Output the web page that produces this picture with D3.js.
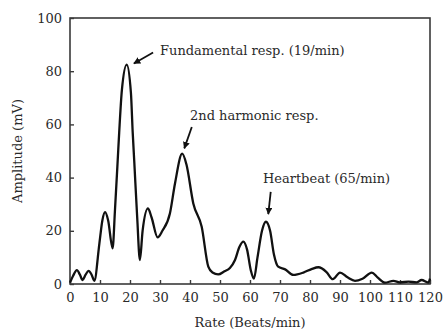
<!DOCTYPE html>
<html><head><meta charset="utf-8">
<script src="https://cdn.jsdelivr.net/npm/d3@7"></script>
<style>
html,body{margin:0;padding:0;background:#fff;}
</style></head>
<body>
<svg id="chart" width="444" height="331"></svg>
<script>
const rates = [0,1,2.3,3.3,4.2,5.2,6.2,7.2,8.1,9.8,10.8,11.7,12.7,14.2,15.0,15.9,16.4,17.3,18.9,20.3,20.9,21.4,22.4,23.3,24.2,26.0,27.2,29.2,30.8,33.3,35.0,37.4,38.8,41.1,43.9,46.1,47.5,49.4,51.5,53.3,55.0,56.5,57.8,59.0,60.3,61.3,62.5,64.0,65.3,66.7,68.0,69.4,71.7,74.4,77.8,80.5,82.8,85.5,87.6,90.0,92.5,95.0,97.5,100.6,102.5,105.0,107.8,110.0,112.8,115.5,117.2,119.4,120];
const amps  = [0.5,3,5.2,3.5,1.5,3.5,4.9,3.5,1.2,15.3,24,27,24,13.4,28,46.5,57,73,82.5,72,57,46.5,25,9,20,28.4,25,17.5,20,26.5,37.8,49,45,30.3,21.5,6.5,4.3,3.6,4.8,6,9,14,15.9,13,5,2,10,20,23.4,20,11,6.5,5.5,3.4,4.3,5.6,6.3,4.5,1.8,4.3,2.5,1.2,2,4.3,2.5,0.5,1.2,0.6,0.9,0.6,1.5,0.5,2];
const xTicks = [0,10,20,30,40,50,60,70,80,90,100,110,120];
const yTicks = [0,20,40,60,80,100];
const labels = ["Fundamental resp. (19/min)","2nd harmonic resp.","Heartbeat (65/min)"];
const labelPos = [[30,87.8],[40,63.4],[64.3,39.8]];
const arrowTail = [[27.7,87],[40.6,59],[66.9,34.6]];
const arrowHead = [[21.3,82.9],[38.1,51],[66.1,26.3]];

const FONT = "DejaVu Serif";
const svg = d3.select("#chart");
const x = d3.scaleLinear().domain([0,120]).range([70,430]);
const y = d3.scaleLinear().domain([0,100]).range([284,18]);

svg.append("defs").append("marker")
  .attr("id","ah").attr("viewBox","0 0 10 10").attr("refX",9).attr("refY",5)
  .attr("markerWidth",7).attr("markerHeight",7).attr("markerUnits","userSpaceOnUse")
  .attr("orient","auto")
  .append("path").attr("d","M0,0 L10,5 L0,10 z").attr("fill","#111");

svg.append("rect").attr("x",x(0)).attr("y",y(100)).attr("width",x(120)-x(0)).attr("height",y(0)-y(100))
  .attr("fill","none").attr("stroke","#3a3a3a").attr("stroke-width",1.6);

const xAxis = d3.axisBottom(x).tickValues(xTicks).tickSizeInner(-4).tickSizeOuter(0).tickPadding(9);
const gx = svg.append("g").attr("transform",`translate(0,${y(0)})`).call(xAxis)
  .attr("font-family",FONT).attr("font-size",13);
gx.select(".domain").remove();
gx.selectAll("line").attr("stroke","#3a3a3a").attr("stroke-width",1.4);
gx.selectAll("text").attr("fill","#2a2a2a");

const yAxis = d3.axisLeft(y).tickValues(yTicks).tickSizeInner(-4).tickSizeOuter(0).tickPadding(8);
const gy = svg.append("g").attr("transform",`translate(${x(0)},0)`).call(yAxis)
  .attr("font-family",FONT).attr("font-size",13);
gy.select(".domain").remove();
gy.selectAll("line").attr("stroke","#3a3a3a").attr("stroke-width",1.4);
gy.selectAll("text").attr("fill","#2a2a2a");

svg.append("text").attr("x",(x(0)+x(120))/2).attr("y",327).attr("text-anchor","middle")
  .attr("font-family",FONT).attr("font-size",13).attr("fill","#2a2a2a").text("Rate (Beats/min)");
svg.append("text").attr("transform",`translate(22,${(y(0)+y(100))/2}) rotate(-90)`)
  .attr("text-anchor","middle").attr("font-family",FONT).attr("font-size",13).attr("fill","#2a2a2a").text("Amplitude (mV)");

const pts = rates.map((r,i)=>[r,amps[i]]);
const line = d3.line().x(d=>x(d[0])).y(d=>y(d[1])).curve(d3.curveMonotoneX);
svg.append("path").datum(pts).attr("d",line).attr("fill","none")
  .attr("stroke","#111").attr("stroke-width",2.3).attr("stroke-linejoin","round");

labels.forEach((t,i)=>{
  svg.append("text").attr("x",x(labelPos[i][0])).attr("y",y(labelPos[i][1])).attr("dy","0.35em")
    .attr("font-family",FONT).attr("font-size",13).attr("fill","#2a2a2a").text(t);
  svg.append("line").attr("x1",x(arrowTail[i][0])).attr("y1",y(arrowTail[i][1]))
    .attr("x2",x(arrowHead[i][0])).attr("y2",y(arrowHead[i][1]))
    .attr("stroke","#111").attr("stroke-width",1.8).attr("marker-end","url(#ah)");
});
</script>
</body></html>
